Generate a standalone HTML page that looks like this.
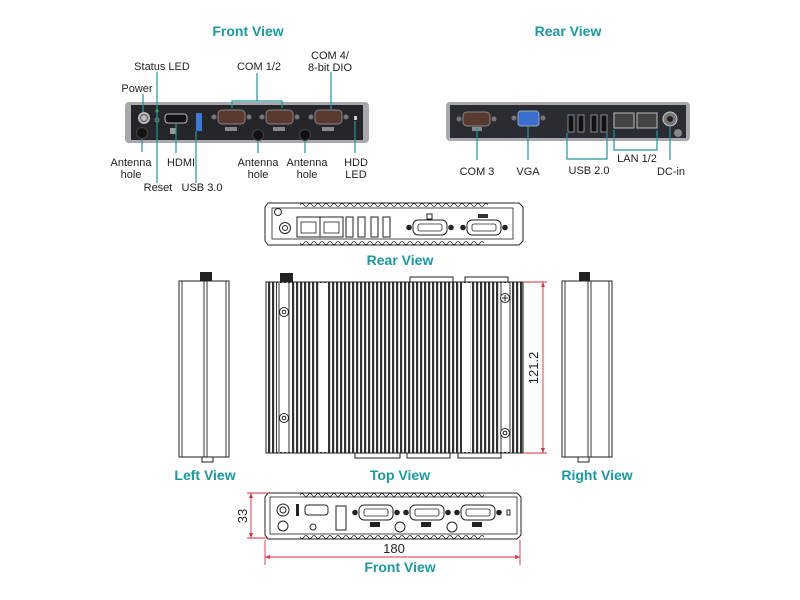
<!DOCTYPE html>
<html><head><meta charset="utf-8"><style>
html,body{margin:0;padding:0;background:#fff;width:800px;height:600px;overflow:hidden}
svg{display:block}
.t{font-family:"Liberation Sans",sans-serif;font-weight:bold;fill:#1a9aa0;font-size:14px;text-anchor:middle}
.l{font-family:"Liberation Sans",sans-serif;fill:#222;font-size:11px;text-anchor:middle}
.ld{stroke:#1a9aa0;stroke-width:1.2;fill:none}
.dr{stroke:#222;stroke-width:1;fill:#fff}
.red{stroke:#d43040;stroke-width:0.9;fill:none}
.dim{font-family:"Liberation Sans",sans-serif;fill:#222;font-size:13px;text-anchor:middle}
</style></head><body>
<svg width="800" height="600" viewBox="0 0 800 600" xmlns="http://www.w3.org/2000/svg">
<defs>
<pattern id="fin" width="4" height="10" patternUnits="userSpaceOnUse">
<rect width="4" height="10" fill="#fff"/><rect x="0" width="2.2" height="10" fill="#333"/>
</pattern>
<g id="db9"><rect x="0" y="0" width="27" height="14" rx="4" fill="#5a3a30" stroke="#888" stroke-width="1"/><circle cx="-4" cy="7" r="2.5" fill="#777"/><circle cx="31" cy="7" r="2.5" fill="#777"/></g>
<g id="db9d"><rect x="0" y="0" width="34" height="15" rx="5" class="dr" stroke-width="1.5"/><circle cx="-4" cy="7.5" r="2.8" fill="#222"/><circle cx="38" cy="7.5" r="2.8" fill="#222"/><rect x="5" y="4" width="24" height="7" rx="2" fill="none" stroke="#222" stroke-width="0.8"/></g>
</defs>

<!-- Titles -->
<text class="t" x="248" y="36">Front View</text>
<text class="t" x="568" y="36">Rear View</text>
<text class="t" x="400" y="265">Rear View</text>
<text class="t" x="205" y="480">Left View</text>
<text class="t" x="400" y="480">Top View</text>
<text class="t" x="597" y="480">Right View</text>
<text class="t" x="400" y="572">Front View</text>

<!-- ===== Front photo ===== -->
<rect x="125" y="102" width="244" height="41" rx="4" fill="#a9a9ad"/>
<rect x="131" y="105" width="232" height="35" fill="#25252a"/>
<circle cx="144" cy="118" r="6" fill="#bbb"/><circle cx="144" cy="118" r="3.5" fill="none" stroke="#555"/>
<circle cx="142" cy="133" r="5.5" fill="#111" stroke="#444"/>
<circle cx="157" cy="111" r="1.5" fill="#4c4"/><circle cx="157" cy="120" r="2" fill="none" stroke="#888"/>
<rect x="165" y="114" width="22" height="9" rx="3" fill="#111" stroke="#bbb"/>
<rect x="170" y="128" width="6" height="6" fill="#999"/>
<rect x="196" y="113" width="6" height="18" rx="1" fill="#3a7bd5"/>
<use href="#db9" x="218" y="110"/><use href="#db9" x="266" y="110"/><use href="#db9" x="315" y="110"/>
<rect x="225" y="127" width="12" height="4" fill="#888"/><rect x="273" y="127" width="12" height="4" fill="#888"/><rect x="322" y="127" width="12" height="4" fill="#888"/>
<circle cx="258" cy="135" r="5.5" fill="#111" stroke="#444"/><circle cx="305" cy="135" r="5.5" fill="#111" stroke="#444"/>
<rect x="354" y="116" width="3" height="4" fill="#ccc"/>
<!-- leaders -->
<path class="ld" d="M143 94V112 M157 72V183 M257 73V101 M232 108V101H282V108 M331 72V110 M142 139V152 M176 123V153 M196 131V183 M258 141V153 M305 141V153 M355 121V153"/>
<text class="l" x="137" y="92">Power</text>
<text class="l" x="162" y="70">Status LED</text>
<text class="l" x="259" y="70">COM 1/2</text>
<text class="l" x="330" y="59">COM 4/</text>
<text class="l" x="330" y="71">8-bit DIO</text>
<text class="l" x="131" y="166">Antenna</text><text class="l" x="131" y="178">hole</text>
<text class="l" x="181" y="166">HDMI</text>
<text class="l" x="158" y="191">Reset</text>
<text class="l" x="202" y="191">USB 3.0</text>
<text class="l" x="258" y="166">Antenna</text><text class="l" x="258" y="178">hole</text>
<text class="l" x="307" y="166">Antenna</text><text class="l" x="307" y="178">hole</text>
<text class="l" x="356" y="166">HDD</text><text class="l" x="356" y="178">LED</text>

<!-- ===== Rear photo ===== -->
<rect x="446" y="102" width="244" height="39" rx="4" fill="#a9a9ad"/>
<rect x="450" y="105" width="236" height="33" fill="#2a2c32"/>
<use href="#db9" x="463" y="112"/><rect x="472" y="127" width="10" height="4" fill="#888"/>
<rect x="518" y="111" width="21" height="15" rx="3" fill="#3a6fd0" stroke="#9ab"/><circle cx="514" cy="118" r="2.5" fill="#777"/><circle cx="543" cy="118" r="2.5" fill="#777"/>
<rect x="568" y="115" width="6" height="17" fill="#111" stroke="#888"/><rect x="578" y="115" width="6" height="17" fill="#111" stroke="#888"/>
<rect x="591" y="115" width="6" height="17" fill="#111" stroke="#888"/><rect x="601" y="115" width="6" height="17" fill="#111" stroke="#888"/>
<rect x="614" y="113" width="20" height="15" fill="#444" stroke="#bbb"/><rect x="637" y="113" width="20" height="15" fill="#444" stroke="#bbb"/>
<circle cx="670" cy="119" r="7" fill="#777" stroke="#ccc"/><circle cx="670" cy="119" r="3" fill="#222"/>
<circle cx="678" cy="133" r="4" fill="#888"/>
<path class="ld" d="M477 128V160 M528 127V160 M567 133V159H607V133 M614 130V150H657V130 M670 127V160"/>
<text class="l" x="477" y="175">COM 3</text>
<text class="l" x="528" y="175">VGA</text>
<text class="l" x="589" y="174">USB 2.0</text>
<text class="l" x="637" y="162">LAN 1/2</text>
<text class="l" x="671" y="175">DC-in</text>

<!-- ===== Rear drawing ===== -->
<path class="dr" d="M268 203H519L523 207V241L519 245H268L265 241V207Z"/>
<path d="M300 205 q2 -3 4 0 t4 0 t4 0 t4 0 t4 0 t4 0 t4 0 t4 0 t4 0 t4 0 t4 0 t4 0 t4 0 t4 0 t4 0 t4 0 t4 0 t4 0 t4 0 t4 0 t4 0 t4 0 t4 0 t4 0 t4 0 t4 0 t4 0 t4 0 t4 0 t4 0 t4 0 t4 0 t4 0 t4 0 t4 0 t4 0 t4 0 t4 0 t4 0 t4 0 t4 0 t4 0 t4 0 t4 0 t4 0 t4 0 t4 0" fill="none" stroke="#222" stroke-width="0.7"/>
<path d="M300 243 q2 3 4 0 t4 0 t4 0 t4 0 t4 0 t4 0 t4 0 t4 0 t4 0 t4 0 t4 0 t4 0 t4 0 t4 0 t4 0 t4 0 t4 0 t4 0 t4 0 t4 0 t4 0 t4 0 t4 0 t4 0 t4 0 t4 0 t4 0 t4 0 t4 0 t4 0 t4 0 t4 0 t4 0 t4 0 t4 0 t4 0 t4 0 t4 0 t4 0 t4 0 t4 0 t4 0 t4 0 t4 0 t4 0 t4 0" fill="none" stroke="#222" stroke-width="0.7"/>
<rect x="272" y="208" width="241" height="31" fill="none" stroke="#222" stroke-width="0.8"/>
<circle cx="278" cy="212" r="3.5" class="dr"/>
<circle cx="285" cy="228" r="5.5" class="dr" stroke-width="1.5"/><circle cx="285" cy="228" r="2.5" class="dr"/>
<rect x="297" y="217" width="23" height="20" class="dr" stroke-width="1.3"/><rect x="301" y="222" width="15" height="11" fill="none" stroke="#222" stroke-width="0.8"/>
<rect x="320" y="217" width="23" height="20" class="dr" stroke-width="1.3"/><rect x="324" y="222" width="15" height="11" fill="none" stroke="#222" stroke-width="0.8"/>
<rect x="346" y="217" width="7" height="20" class="dr" stroke-width="1.3"/><rect x="358" y="217" width="7" height="20" class="dr" stroke-width="1.3"/>
<rect x="371" y="217" width="7" height="20" class="dr" stroke-width="1.3"/><rect x="383" y="217" width="7" height="20" class="dr" stroke-width="1.3"/>
<use href="#db9d" x="413" y="220"/><use href="#db9d" x="467" y="220"/>
<rect x="427" y="214" width="5" height="5" class="dr"/><rect x="478" y="214" width="10" height="4" fill="#333"/>

<!-- ===== Left view ===== -->
<rect x="200" y="272" width="12" height="10" fill="#222"/>
<rect x="179" y="281" width="50" height="176" class="dr"/>
<path d="M182 281V457 M204 281V457 M207 281V457 M226 281V457" stroke="#222" stroke-width="0.9"/>
<rect x="202" y="457" width="11" height="5" class="dr"/>

<!-- ===== Right view ===== -->
<rect x="579" y="272" width="11" height="10" fill="#222"/>
<rect x="562" y="281" width="50" height="176" class="dr"/>
<path d="M565 281V457 M588 281V457 M591 281V457 M609 281V457" stroke="#222" stroke-width="0.9"/>
<rect x="578" y="457" width="11" height="5" class="dr"/>

<!-- ===== Top view ===== -->
<rect x="280" y="273" width="13" height="9" fill="#222"/>
<rect x="410" y="277" width="43" height="6" class="dr"/><rect x="465" y="277" width="43" height="6" class="dr"/>
<rect x="355" y="452" width="45" height="6" class="dr"/><rect x="407" y="452" width="43" height="6" class="dr"/><rect x="458" y="452" width="43" height="6" class="dr"/>
<rect x="266" y="282" width="257" height="171" fill="url(#fin)" stroke="#222"/>
<rect x="320" y="283" width="8" height="169" fill="#fff"/>
<rect x="462" y="283" width="8" height="169" fill="#fff"/>
<rect x="277" y="283" width="14" height="169" fill="#fff"/>
<path d="M279 283V452 M289 283V452" stroke="#333" stroke-width="1"/>
<rect x="499" y="283" width="13" height="169" fill="#fff"/>
<path d="M501 283V452 M510 283V452" stroke="#333" stroke-width="1"/>
<circle cx="284" cy="312" r="4.5" class="dr" stroke-width="1.4"/><circle cx="284" cy="312" r="1.8" class="dr"/>
<circle cx="284" cy="418" r="4.5" class="dr" stroke-width="1.4"/><circle cx="284" cy="418" r="1.8" class="dr"/>
<circle cx="505" cy="298" r="4.5" class="dr" stroke-width="1.4"/><path d="M502 298H508M505 295V301" stroke="#222"/>
<circle cx="505" cy="433" r="4.5" class="dr" stroke-width="1.4"/><circle cx="505" cy="433" r="1.8" class="dr"/>
<!-- dim 121.2 -->
<path class="red" d="M523 282H547 M523 453H547 M543 282V453"/>
<path d="M543 282l-2 5h4z M543 453l-2 -5h4z" fill="#d43040"/>
<text class="dim" x="0" y="0" transform="translate(538 368) rotate(-90)">121.2</text>

<!-- ===== Bottom front drawing ===== -->
<path class="dr" d="M268 493H517L521 497V535L517 539H268L265 535V497Z"/>
<path d="M300 495 q2 -3 4 0 t4 0 t4 0 t4 0 t4 0 t4 0 t4 0 t4 0 t4 0 t4 0 t4 0 t4 0 t4 0 t4 0 t4 0 t4 0 t4 0 t4 0 t4 0 t4 0 t4 0 t4 0 t4 0 t4 0 t4 0 t4 0 t4 0 t4 0 t4 0 t4 0 t4 0 t4 0 t4 0 t4 0 t4 0 t4 0 t4 0 t4 0 t4 0 t4 0 t4 0 t4 0 t4 0 t4 0 t4 0 t4 0" fill="none" stroke="#222" stroke-width="0.7"/>
<path d="M300 537 q2 3 4 0 t4 0 t4 0 t4 0 t4 0 t4 0 t4 0 t4 0 t4 0 t4 0 t4 0 t4 0 t4 0 t4 0 t4 0 t4 0 t4 0 t4 0 t4 0 t4 0 t4 0 t4 0 t4 0 t4 0 t4 0 t4 0 t4 0 t4 0 t4 0 t4 0 t4 0 t4 0 t4 0 t4 0 t4 0 t4 0 t4 0 t4 0 t4 0 t4 0 t4 0 t4 0 t4 0 t4 0 t4 0 t4 0" fill="none" stroke="#222" stroke-width="0.7"/>
<rect x="270" y="497" width="247" height="37" fill="none" stroke="#222" stroke-width="0.8"/>
<circle cx="283" cy="510" r="6" class="dr" stroke-width="1.4"/><circle cx="283" cy="510" r="3" class="dr"/>
<circle cx="283" cy="526" r="5" class="dr"/>
<rect x="296" y="504" width="3" height="12" fill="#222"/>
<rect x="305" y="505" width="23" height="10" rx="3" class="dr" stroke-width="1.5"/>
<circle cx="313" cy="527" r="3" class="dr"/>
<rect x="336" y="506" width="10" height="24" class="dr" stroke-width="1.4"/>
<use href="#db9d" x="359" y="505"/><use href="#db9d" x="410" y="505"/><use href="#db9d" x="461" y="505"/>
<rect x="370" y="522" width="10" height="5" fill="#222"/><rect x="421" y="522" width="10" height="5" fill="#222"/><rect x="472" y="522" width="10" height="5" fill="#222"/>
<circle cx="400" cy="527" r="5" class="dr"/><circle cx="452" cy="527" r="5" class="dr"/>
<rect x="507" y="510" width="3" height="5" class="dr"/>
<!-- dims -->
<path class="red" d="M247 493H268 M247 538H268 M251 493V538 M265 540V565 M520 540V565 M265 557H520"/>
<path d="M251 493l-2 5h4z M251 538l-2 -5h4z M265 557l5 -2v4z M520 557l-5 -2v4z" fill="#d43040"/>
<text class="dim" x="0" y="0" transform="translate(247 516) rotate(-90)">33</text>
<text class="dim" x="394" y="553">180</text>
</svg>
</body></html>
